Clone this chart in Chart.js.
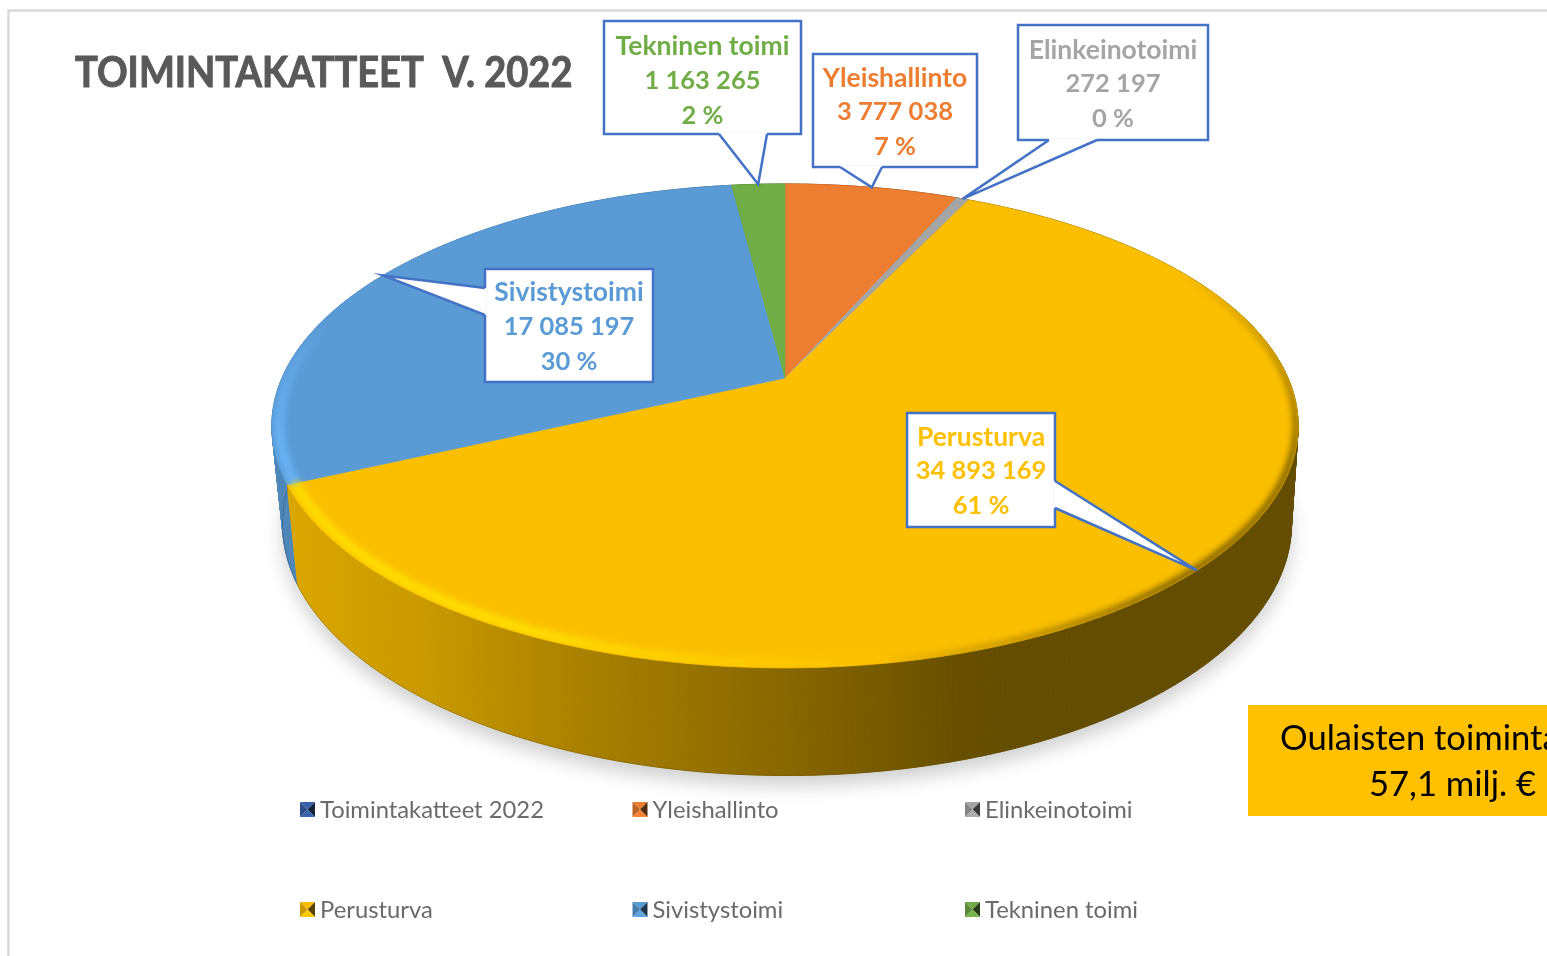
<!DOCTYPE html>
<html>
<head>
<meta charset="utf-8">
<title>Toimintakatteet 2022</title>
<script src="https://cdn.jsdelivr.net/npm/chart.js@4"></script>
<style>
    html, body { margin: 0; padding: 0; background: #fff; overflow: hidden; }
    canvas { display: block; }
</style>
</head>
<body>
<canvas id="myChart" width="1547" height="956"></canvas>
<script>
const chartTitle = "TOIMINTAKATTEET  V. 2022";
const seriesName = "Toimintakatteet 2022";
const categories = ["Yleishallinto", "Elinkeinotoimi", "Perusturva", "Sivistystoimi", "Tekninen toimi"];
const values = [3777038, 272197, 34893169, 17085197, 1163265];
const colors = ["#ed7d31", "#a5a5a5", "#fbbf00", "#5b9bd5", "#70ad47"];
const labelColors = ["#ed7d31", "#a5a5a5", "#ffc000", "#5b9bd5", "#70ad47"];
const noteLines = ["Oulaisten toimintakate", "57,1 milj. €"];

// pie seen in perspective: apex, scale, and foreshortening of the far side
const pie = { cx: 785, y0: 378, a: 503, b: 232.5, k: 0.198 };
const floor = { cx: 787, y0: 474, sx: 0.983, sy: 1.04 };

// callout boxes, same order as categories. tail = where it leaves the box
const callouts = [
    { x: 813, y: 54, w: 164, h: 113, dy: 0, tail: [[882, 167], [840, 167]] },
    { x: 1018, y: 25, w: 190, h: 115, dy: 1, tail: [[1097, 140], [1049, 140]] },
    { x: 907, y: 413, w: 148, h: 114, dy: 0, tail: [[1055, 508], [1055, 481]] },
    { x: 485, y: 269, w: 168, h: 113, dy: -0.5, tail: [[485, 288], [485, 315]] },
    { x: 604, y: 21, w: 197, h: 113, dy: 1.5, tail: [[767, 134], [719, 134]] },
];

function project(phi, r) {
    const u = r * Math.sin(phi), v = -r * Math.cos(phi), w = 1 - pie.k * v;
    return [pie.cx + pie.a * u / w, pie.y0 + pie.b * v / w];
}

function projectFloor(phi) {
    const u = Math.sin(phi), v = -Math.cos(phi), w = 1 - pie.k * v;
    return [floor.cx + floor.sx * pie.a * u / w, floor.y0 + floor.sy * pie.b * v / w];
}

function rgb(hex, m) {
    const n = parseInt(hex.slice(1), 16);
    const c = [n >> 16, (n >> 8) & 255, n & 255].map((p) => Math.min(255, Math.round(p * m)));
    return "rgb(" + c.join(",") + ")";
}

function sideGradient(ctx, hex) {
    const g = ctx.createLinearGradient(290, 0, 1010, 0);
    g.addColorStop(0, rgb(hex, 0.87));
    g.addColorStop(0.19, rgb(hex, 0.8));
    g.addColorStop(0.43, rgb(hex, 0.66));
    g.addColorStop(0.71, rgb(hex, 0.53));
    g.addColorStop(0.92, rgb(hex, 0.42));
    g.addColorStop(1, rgb(hex, 0.4));
    return g;
}

function slicePhis(arc) {
    // chart.js angles start at 3 o'clock, ours at 12
    return [arc.startAngle + Math.PI / 2, arc.endAngle + Math.PI / 2];
}

function stepsOf(start, end) {
    const out = [];
    const n = Math.max(2, Math.ceil((end - start) / 0.01));
    for (let i = 0; i <= n; i++) out.push(start + (end - start) * i / n);
    return out;
}

function drawShadow(ctx) {
    ctx.save();
    ctx.filter = "blur(9px)";
    ctx.fillStyle = "rgba(0,0,0,0.19)";
    ctx.beginPath();
    stepsOf(0, Math.PI * 2).forEach((phi) => {
        const p = projectFloor(phi);
        ctx.lineTo(p[0], p[1] + 10);
    });
    ctx.closePath();
    ctx.fill();
    ctx.restore();
}

function drawSides(ctx, arcs) {
    const quads = [];
    arcs.forEach((arc, i) => {
        const [s, e] = slicePhis(arc);
        const st = stepsOf(s, e);
        for (let j = 0; j < st.length - 1; j++) {
            quads.push({ a: st[j], b: st[j + 1], i: i, z: -Math.cos(st[j]) });
        }
    });
    quads.sort((p, q) => p.z - q.z);
    const grads = colors.map((c) => sideGradient(ctx, c));
    ctx.lineWidth = 1;
    quads.forEach((q) => {
        const t1 = project(q.a, 1), t2 = project(q.b, 1), f1 = projectFloor(q.a), f2 = projectFloor(q.b);
        ctx.fillStyle = grads[q.i];
        ctx.strokeStyle = grads[q.i];
        ctx.beginPath();
        ctx.moveTo(t1[0], t1[1]);
        ctx.lineTo(t2[0], t2[1]);
        ctx.lineTo(f2[0], f2[1]);
        ctx.lineTo(f1[0], f1[1]);
        ctx.closePath();
        ctx.fill();
        ctx.stroke();
    });
    // thin dark line on the lower edge
    arcs.forEach((arc, i) => {
        const [s, e] = slicePhis(arc);
        ctx.strokeStyle = rgb(colors[i], 0.4);
        ctx.globalAlpha = 0.35;
        ctx.lineWidth = 1;
        ctx.beginPath();
        stepsOf(s, e).forEach((phi) => {
            const p = projectFloor(phi);
            ctx.lineTo(p[0], p[1]);
        });
        ctx.stroke();
        ctx.globalAlpha = 1;
    });
}

function topPath(ctx, arc) {
    const [s, e] = slicePhis(arc);
    const c = project(0, 0);
    ctx.beginPath();
    ctx.moveTo(c[0], c[1]);
    stepsOf(s, e).forEach((phi) => {
        const p = project(phi, 1);
        ctx.lineTo(p[0], p[1]);
    });
    ctx.closePath();
}

function ramp(x, from, to) {
    return Math.max(0, Math.min(1, (x - from) / (to - from)));
}

function drawBevel(ctx, arcs) {
    const off = document.createElement("canvas");
    off.width = ctx.canvas.width;
    off.height = ctx.canvas.height;
    const o = off.getContext("2d");
    arcs.forEach((arc, i) => {
        const [s, e] = slicePhis(arc);
        const st = stepsOf(s, e);
        for (let j = 0; j < st.length - 1; j++) {
            const deg = st[j] * 180 / Math.PI;
            const bright = ramp(deg, 170, 205) * (1 - ramp(deg, 255, 285));
            const dark = ramp(deg, 60, 110) * (1 - ramp(deg, 140, 172));
            let r = 0.986;
            if (bright > 0) {
                o.strokeStyle = rgb(colors[i], 1.16);
                o.globalAlpha = bright;
                o.lineWidth = 10;
            } else if (dark > 0) {
                o.strokeStyle = rgb(colors[i], 0.42);
                o.globalAlpha = dark;
                o.lineWidth = 6;
                r = 0.996;
            } else {
                continue;
            }
            const p1 = project(st[j], r), p2 = project(st[j + 1], r);
            o.beginPath();
            o.moveTo(p1[0], p1[1]);
            o.lineTo(p2[0], p2[1]);
            o.stroke();
        }
    });
    ctx.save();
    ctx.beginPath();
    stepsOf(0, Math.PI * 2).forEach((phi) => {
        const p = project(phi, 1);
        ctx.lineTo(p[0], p[1]);
    });
    ctx.closePath();
    ctx.clip();
    ctx.filter = "blur(3px)";
    ctx.drawImage(off, 0, 0);
    ctx.restore();
}

function drawCallout(ctx, box, tip, i, total) {
    ctx.beginPath();
    ctx.rect(box.x, box.y, box.w, box.h);
    ctx.fillStyle = "#fff";
    ctx.strokeStyle = "#4472c4";
    ctx.lineWidth = 2.5;
    ctx.lineJoin = "miter";
    ctx.fill();
    ctx.stroke();

    // tail: white fill, wipe the box border under it, then the two sides
    ctx.beginPath();
    ctx.moveTo(box.tail[0][0], box.tail[0][1]);
    ctx.lineTo(tip[0], tip[1]);
    ctx.lineTo(box.tail[1][0], box.tail[1][1]);
    ctx.closePath();
    ctx.fill();
    ctx.save();
    ctx.strokeStyle = "#fff";
    ctx.lineWidth = 3.5;
    ctx.beginPath();
    ctx.moveTo(box.tail[0][0], box.tail[0][1]);
    ctx.lineTo(box.tail[1][0], box.tail[1][1]);
    ctx.stroke();
    ctx.restore();
    ctx.beginPath();
    ctx.moveTo(box.tail[0][0], box.tail[0][1]);
    ctx.lineTo(tip[0], tip[1]);
    ctx.lineTo(box.tail[1][0], box.tail[1][1]);
    ctx.stroke();

    const cx = box.x + box.w / 2;
    const lines = [
        categories[i],
        values[i].toLocaleString("en-US").replace(/,/g, " "),
        Math.round(values[i] / total * 100) + " %",
    ];
    ctx.fillStyle = labelColors[i];
    ctx.textAlign = "center";
    ctx.textBaseline = "middle";
    lines.forEach((t, n) => {
        ctx.font = n === 0 ? "bold 26.5px Lato" : "bold 25.5px Lato";
        ctx.fillText(t, cx, box.y + box.dy + [24, 58, 93][n]);
    });
}

function drawLegendBox(ctx, x, y, hex) {
    const s = 15, mx = x + s / 2, my = y + s / 2;
    const tri = (x1, y1, x2, y2, m) => {
        ctx.fillStyle = rgb(hex, m);
        ctx.beginPath();
        ctx.moveTo(x1, y1);
        ctx.lineTo(x2, y2);
        ctx.lineTo(mx, my);
        ctx.closePath();
        ctx.fill();
    };
    tri(x, y, x + s, y, 1);
    tri(x + s, y, x + s, y + s, 0.35);
    tri(x + s, y + s, x, y + s, 1.05);
    tri(x, y + s, x, y, 0.8);
}

const pie3d = {
    id: "pie3d",
    beforeDatasetsDraw(chart) {
        const ctx = chart.ctx;
        const arcs = chart.getDatasetMeta(0).data;
        const total = values.reduce((a, b) => a + b, 0);

        // frame
        ctx.strokeStyle = "#d9d9d9";
        ctx.lineWidth = 2.5;
        ctx.beginPath();
        ctx.moveTo(8.5, 956);
        ctx.lineTo(8.5, 10.5);
        ctx.lineTo(1547, 10.5);
        ctx.stroke();

        drawShadow(ctx);
        drawSides(ctx, arcs);
        arcs.forEach((arc, i) => {
            topPath(ctx, arc);
            ctx.fillStyle = colors[i];
            ctx.strokeStyle = colors[i];
            ctx.lineWidth = 0.7;
            ctx.fill();
            ctx.stroke();
        });
        drawBevel(ctx, arcs);

        arcs.forEach((arc, i) => {
            const [s, e] = slicePhis(arc);
            drawCallout(ctx, callouts[i], project((s + e) / 2, 1), i, total);
        });

        // title, squeezed a bit: Lato is wider than the original font
        ctx.save();
        ctx.translate(75, 87);
        ctx.scale(0.905, 1);
        ctx.font = "bold 42px Lato";
        ctx.fillStyle = "#595959";
        ctx.strokeStyle = "#595959";
        ctx.lineWidth = 1;
        ctx.textAlign = "left";
        ctx.textBaseline = "alphabetic";
        ctx.fillText(chartTitle, 0, 0);
        ctx.strokeText(chartTitle, 0, 0);
        ctx.restore();

        // legend: 3 columns, 2 rows
        const names = [seriesName].concat(categories);
        const boxes = ["#3560a8"].concat(colors);
        ctx.textAlign = "left";
        names.forEach((name, i) => {
            const x = 300 + (i % 3) * 332.5;
            const y = i < 3 ? 810 : 910;
            drawLegendBox(ctx, x, y - 8, boxes[i]);
            ctx.font = "23.8px Lato";
            ctx.fillStyle = "#6a6a6a";
            ctx.textBaseline = "middle";
            ctx.fillText(name, x + 20, y);
        });

        // note box
        ctx.fillStyle = "#ffc000";
        ctx.fillRect(1248, 705, 299, 111);
        ctx.font = "34.6px Lato";
        ctx.fillStyle = "#000";
        ctx.textBaseline = "alphabetic";
        ctx.fillText(noteLines[0], 1280, 750);
        ctx.fillText(noteLines[1], 1369, 796);
        return false;
    },
};

const myChart = new Chart(document.getElementById("myChart"), {
    type: "pie",
    data: {
        labels: categories,
        datasets: [{ label: seriesName, data: values, backgroundColor: colors }],
    },
    options: {
        responsive: false,
        animation: false,
        plugins: {
            legend: { display: false },
            tooltip: { enabled: false },
        },
    },
    plugins: [pie3d],
});
</script>
</body>
</html>
